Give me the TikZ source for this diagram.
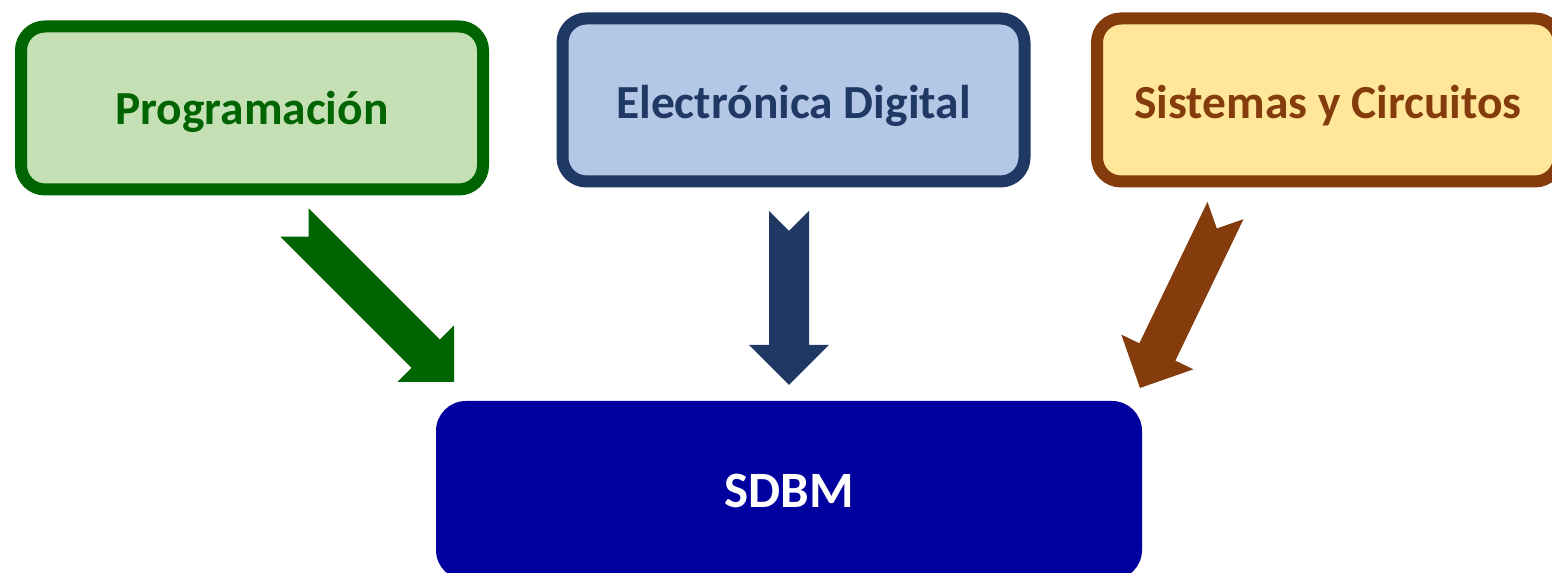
\documentclass[tikz,border=0pt]{standalone}
\usepackage{fontspec}
\setmainfont{Carlito}
\usetikzlibrary{calc}

\definecolor{proggreen}{RGB}{0,100,0}
\definecolor{progfill}{RGB}{197,224,180}
\definecolor{elecblue}{RGB}{31,56,100}
\definecolor{elecfill}{RGB}{180,199,231}
\definecolor{sistbrown}{RGB}{132,60,12}
\definecolor{sistfill}{RGB}{255,230,153}
\definecolor{sdbmblue}{RGB}{0,0,158}

\tikzset{
    subject/.style={rounded corners=0.24cm, line width=0.12cm, inner sep=0pt,
        minimum width=4.62cm, minimum height=1.63cm, text height=0.38cm, text depth=0cm,
        font=\fontsize{13.5}{16}\selectfont\bfseries},
}

% notched block arrow: colour, tail, tip
\newcommand{\notcharrow}[3]{%
    \coordinate (headbase) at ($(#3)!0.4cm!(#2)$);
    \fill[#1] ($(#2)!0.2cm!90:(#3)$) -- ($(#2)!0.2cm!(#3)$) -- ($(#2)!0.2cm!-90:(#3)$)
        -- ($(headbase)!0.2cm!-90:(#3)$) -- ($(headbase)!0.4cm!-90:(#3)$) -- (#3)
        -- ($(headbase)!0.4cm!90:(#3)$) -- ($(headbase)!0.2cm!90:(#3)$) -- cycle;
}

\begin{document}
\begin{tikzpicture}
        \useasboundingbox (0,0) rectangle (15.52,5.73);
        %boxes
            \node[subject, draw=proggreen, fill=progfill, text=proggreen, text height=0.33cm] (prog) at (2.52,4.65) {Programación};
            \node[subject, draw=elecblue, fill=elecfill, text=elecblue] (elec) at (7.935,4.73) {Electrónica Digital};
            \node[subject, draw=sistbrown, fill=sistfill, text=sistbrown] (sist) at (13.28,4.73) {Sistemas y Circuitos};
            \node[rounded corners=0.3cm, fill=sdbmblue, text=white, minimum width=7.06cm, minimum height=1.79cm,
                font=\fontsize{14.5}{17}\selectfont\bfseries] (sdbm) at (7.89,0.825) {SDBM};
        % arrow ends
            \coordinate (progtail) at (2.945,3.505);
                \coordinate (progtip) at (4.54,1.91);
            \coordinate (electail) at (7.89,3.62);
                \coordinate (electip) at (7.89,1.88);
            \coordinate (sisttail) at (12.255,3.625);
                \coordinate (sisttip) at (11.40,1.85);
        % arrows
            \notcharrow{proggreen}{progtail}{progtip}
            \notcharrow{elecblue}{electail}{electip}
            \notcharrow{sistbrown}{sisttail}{sisttip}
    \end{tikzpicture}
\end{document}
